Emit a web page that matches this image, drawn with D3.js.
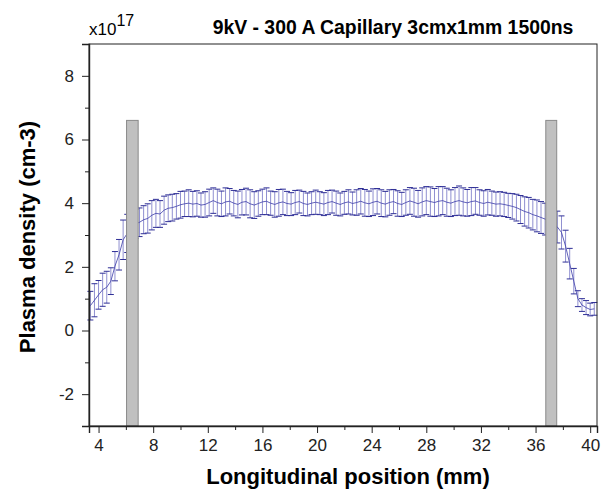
<!DOCTYPE html>
<html>
<head>
<meta charset="utf-8">
<script src="https://cdn.jsdelivr.net/npm/d3@7/dist/d3.min.js"></script>
<style>
  body { margin: 0; background: #fff; }
  text { font-family: Arial, "Liberation Sans", sans-serif; }
</style>
</head>
<body>
<script>
// longitudinal position (mm)
const positions = [3.4, 3.7, 4.0, 4.3, 4.6, 4.9, 5.2, 5.5, 5.8, 6.1, 6.4, 6.7,
  7.0, 7.3, 7.6, 7.9, 8.2, 8.5, 8.8, 9.1, 9.4, 9.7, 10.0, 10.3, 10.6, 10.9,
  11.2, 11.5, 11.8, 12.1, 12.4, 12.7, 13.0, 13.3, 13.6, 13.9, 14.2, 14.5,
  14.8, 15.1, 15.4, 15.7, 16.0, 16.3, 16.6, 16.9, 17.2, 17.5, 17.8, 18.1,
  18.4, 18.7, 19.0, 19.3, 19.6, 19.9, 20.2, 20.5, 20.8, 21.1, 21.4, 21.7,
  22.0, 22.3, 22.6, 22.9, 23.2, 23.5, 23.8, 24.1, 24.4, 24.7, 25.0, 25.3,
  25.6, 25.9, 26.2, 26.5, 26.8, 27.1, 27.4, 27.7, 28.0, 28.3, 28.6, 28.9,
  29.2, 29.5, 29.8, 30.1, 30.4, 30.7, 31.0, 31.3, 31.6, 31.9, 32.2, 32.5,
  32.8, 33.1, 33.4, 33.7, 34.0, 34.3, 34.6, 34.9, 35.2, 35.5, 35.8, 36.1,
  36.4, 36.7, 37.0, 37.3, 37.6, 37.9, 38.2, 38.5, 38.8, 39.1, 39.4, 39.7,
  40.0, 40.3];

// plasma density (x10^17 cm-3)
const density = [0.78, 0.95, 1.12, 1.28, 1.36, 1.55, 2.02, 2.38, 2.85, 3.05, 3.2, 3.35,
  3.4, 3.48, 3.52, 3.62, 3.68, 3.66, 3.78, 3.84, 3.86, 3.9, 3.95, 3.98, 4.0, 3.97,
  3.99, 3.94, 3.96, 4.02, 4.08, 4.02, 3.98, 4.04, 4.06, 4.0, 3.96, 4.03,
  4.05, 3.98, 3.94, 3.99, 4.04, 4.06, 4.0, 3.96, 4.01, 4.04, 3.99, 3.97,
  4.02, 4.05, 3.99, 3.96, 4.0, 4.03, 4.0, 3.97, 4.02, 4.05, 4.0, 3.96,
  4.01, 4.04, 3.99, 4.02, 4.06, 4.01, 3.98, 4.03, 4.06, 4.0, 3.97, 4.02,
  4.05, 3.99, 3.96, 4.02, 4.07, 4.03, 3.98, 4.04, 4.08, 4.05, 4.02, 4.06,
  4.08, 4.03, 4.0, 4.05, 4.08, 4.04, 4.01, 4.05, 4.07, 4.02, 3.99, 4.03,
  4.0, 3.97, 3.98, 3.96, 3.93, 3.9, 3.86, 3.8, 3.74, 3.7, 3.64, 3.6,
  3.55, 3.5, 3.42, 3.35, 3.25, 3.08, 2.65, 2.1, 1.55, 1.0, 0.8, 0.72,
  0.66, 0.68];

// error (x10^17 cm-3)
const errors = [0.45, 0.52, 0.45, 0.52, 0.5, 0.42, 0.46, 0.48, 0.62, 0.6, 0.5, 0.46,
  0.45, 0.44, 0.46, 0.46, 0.44, 0.42, 0.44, 0.42, 0.42, 0.4, 0.42, 0.4, 0.42, 0.4,
  0.4, 0.38, 0.4, 0.42, 0.4, 0.42, 0.4, 0.44, 0.4, 0.4, 0.42, 0.4,
  0.42, 0.44, 0.42, 0.4, 0.4, 0.42, 0.38, 0.4, 0.42, 0.4, 0.38, 0.36,
  0.38, 0.36, 0.38, 0.36, 0.36, 0.38, 0.36, 0.36, 0.38, 0.36, 0.38, 0.36,
  0.36, 0.38, 0.36, 0.4, 0.4, 0.42, 0.4, 0.42, 0.4, 0.42, 0.4, 0.4,
  0.38, 0.4, 0.38, 0.4, 0.42, 0.44, 0.42, 0.44, 0.44, 0.46, 0.44, 0.46,
  0.44, 0.44, 0.42, 0.44, 0.46, 0.44, 0.42, 0.44, 0.42, 0.4, 0.4, 0.4,
  0.38, 0.38, 0.38, 0.38, 0.38, 0.4, 0.42, 0.44, 0.46, 0.48, 0.48, 0.5,
  0.5, 0.5, 0.5, 0.5, 0.5, 0.52, 0.5, 0.48, 0.4, 0.25, 0.2, 0.22,
  0.2, 0.2];

// capillary electrodes (mm)
const electrodes = [[6.05, 6.9], [36.75, 37.55]];
const electrodeTop = 6.6;

const xTicks = [4, 8, 12, 16, 20, 24, 28, 32, 36, 40];
const xMinor = [6, 10, 14, 18, 22, 26, 30, 34, 38];
const yTicks = [-2, 0, 2, 4, 6, 8];
const yMinor = [-1, 1, 3, 5, 7];

const w = 605, h = 494;
const m = { left: 89, right: 8, top: 44, bottom: 68 };

const svg = d3.select('body').append('svg')
    .attr('width', w)
    .attr('height', h);

const x = d3.scaleLinear()
    .domain([3.3, 40.5])
    .range([m.left, w - m.right]);

const y = d3.scaleLinear()
    .domain([-3, 9])
    .range([h - m.bottom, m.top]);

const data = positions.map((p, i) => ({ x: p, y: density[i], e: errors[i] }));

// error bars
const bars = svg.append('g');
bars.selectAll('line.v')
    .data(data)
    .enter().append('line')
    .attr('x1', d => x(d.x)).attr('x2', d => x(d.x))
    .attr('y1', d => y(d.y - d.e)).attr('y2', d => y(d.y + d.e))
    .attr('stroke', '#6a6ac0')
    .attr('stroke-opacity', 0.75)
    .attr('stroke-width', 1);

['top', 'bot'].forEach(k => {
    bars.selectAll('line.' + k)
        .data(data)
        .enter().append('line')
        .attr('x1', d => x(d.x) - 3).attr('x2', d => x(d.x) + 3)
        .attr('y1', d => y(k === 'top' ? d.y + d.e : d.y - d.e))
        .attr('y2', d => y(k === 'top' ? d.y + d.e : d.y - d.e))
        .attr('stroke', '#2e2e96')
        .attr('stroke-width', 1);
});

const line = d3.line()
    .x(d => x(d.x))
    .y(d => y(d.y));

svg.append('path')
    .datum(data)
    .attr('d', line)
    .attr('fill', 'none')
    .attr('stroke', '#3a3aa8')
    .attr('stroke-width', 0.8);

// electrodes
svg.selectAll('rect.el')
    .data(electrodes)
    .enter().append('rect')
    .attr('x', d => x(d[0]))
    .attr('width', d => x(d[1]) - x(d[0]))
    .attr('y', y(electrodeTop))
    .attr('height', y(-3) - y(electrodeTop))
    .attr('fill', '#c0c0c0')
    .attr('stroke', '#8a8a8a')
    .attr('stroke-width', 1);

// frame
svg.append('rect')
    .attr('x', m.left).attr('y', m.top)
    .attr('width', w - m.right - m.left)
    .attr('height', h - m.bottom - m.top)
    .attr('fill', 'none')
    .attr('stroke', '#222')
    .attr('stroke-width', 1);

svg.append('g')
    .attr('transform', 'translate(0,' + (h - m.bottom) + ')')
    .call(d3.axisBottom(x).tickValues(xTicks).tickSize(7).tickPadding(6).tickFormat(d3.format('d')));

svg.append('g')
    .attr('transform', 'translate(0,' + (h - m.bottom) + ')')
    .call(d3.axisBottom(x).tickValues(xMinor).tickSize(4).tickFormat(''))
    .select('.domain').remove();

svg.append('g')
    .attr('transform', 'translate(' + m.left + ',0)')
    .call(d3.axisLeft(y).tickValues(yTicks).tickSize(7).tickPadding(8).tickFormat(d3.format('d')));

svg.append('g')
    .attr('transform', 'translate(' + m.left + ',0)')
    .call(d3.axisLeft(y).tickValues(yMinor).tickSize(4).tickFormat(''))
    .select('.domain').remove();

svg.selectAll('.tick text')
    .attr('font-size', 17)
    .attr('fill', '#222')
    .attr('font-family', 'Arial, "Liberation Sans", sans-serif')
    .text(function () { return d3.select(this).text().replace('\u2212', '-'); });
svg.selectAll('.tick line').attr('stroke', '#222');
svg.selectAll('.domain').attr('stroke', '#222').attr('stroke-width', 1.4);

// labels
svg.append('text')
    .attr('x', 348).attr('y', 484)
    .attr('text-anchor', 'middle')
    .attr('font-size', 22)
    .attr('font-weight', 'bold')
    .text('Longitudinal position (mm)');

svg.append('text')
    .attr('transform', 'translate(35,237) rotate(-90)')
    .attr('text-anchor', 'middle')
    .attr('font-size', 22)
    .attr('font-weight', 'bold')
    .text('Plasma density (cm-3)');

svg.append('text')
    .attr('x', 393).attr('y', 34)
    .attr('text-anchor', 'middle')
    .attr('font-size', 19.4)
    .attr('font-weight', 'bold')
    .text('9kV - 300 A Capillary 3cmx1mm 1500ns');

const mult = svg.append('text')
    .attr('x', 89).attr('y', 35)
    .attr('font-size', 17);
mult.append('tspan').text('x10');
mult.append('tspan').attr('dy', -9).attr('font-size', 16).text('17');
</script>
</body>
</html>
